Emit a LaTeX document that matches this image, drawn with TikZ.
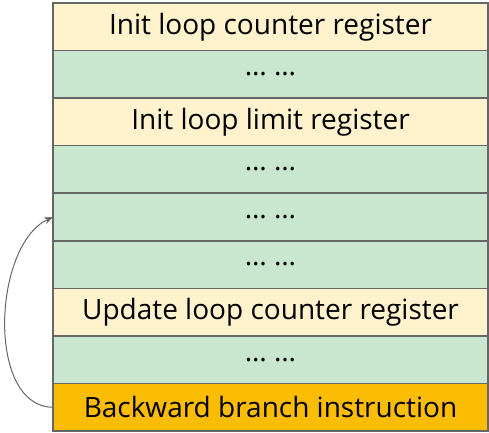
\documentclass[tikz,border=0pt]{standalone}
\usepackage{fontspec}
\setmainfont{Open Sans}
\usepackage{tikz}
\usetikzlibrary{positioning}
\usetikzlibrary{arrows.meta}

\definecolor{initcol}{HTML}{FFF2CC}
\definecolor{bodycol}{HTML}{C9E6CF}
\definecolor{branchcol}{HTML}{FBBC04}
\definecolor{edgecol}{HTML}{666666}

\begin{document}
\begin{tikzpicture} [x=1pt, y=1pt,
                row/.style = {draw=edgecol, line width=1.5pt, outer sep=0pt, minimum width=435pt, minimum height=47.55pt, inner sep=0pt, font=\fontsize{28}{32}\selectfont},
                init/.style = {row, fill=initcol},
                body/.style = {row, fill=bodycol},
                branch/.style = {row, fill=branchcol}
            ]
            \useasboundingbox (0,0) rectangle (489,-432);
            \node[init, anchor=north west] (r1) at (53,-3) {Init loop counter register};
            \node[body, below=0pt of r1] (r2) {\ldots\ \ldots};
            \node[init, below=0pt of r2] (r3) {Init loop limit register};
            \node[body, below=0pt of r3] (r4) {\ldots\ \ldots};
            \node[body, below=0pt of r4] (r5) {\ldots\ \ldots};
            \node[body, below=0pt of r5] (r6) {\ldots\ \ldots};
            \node[init, below=0pt of r6] (r7) {Update loop counter register};
            \node[body, below=0pt of r7] (r8) {\ldots\ \ldots};
            \node[branch, below=0pt of r8] (r9) {Backward branch instruction};
            % loop back edge
            \draw [-{Stealth[length=9pt,width=7pt]}, edgecol, line width=1pt] (r9.west) to[out=180, in=205, looseness=0.9] (r5.west);
        \end{tikzpicture}
\end{document}
